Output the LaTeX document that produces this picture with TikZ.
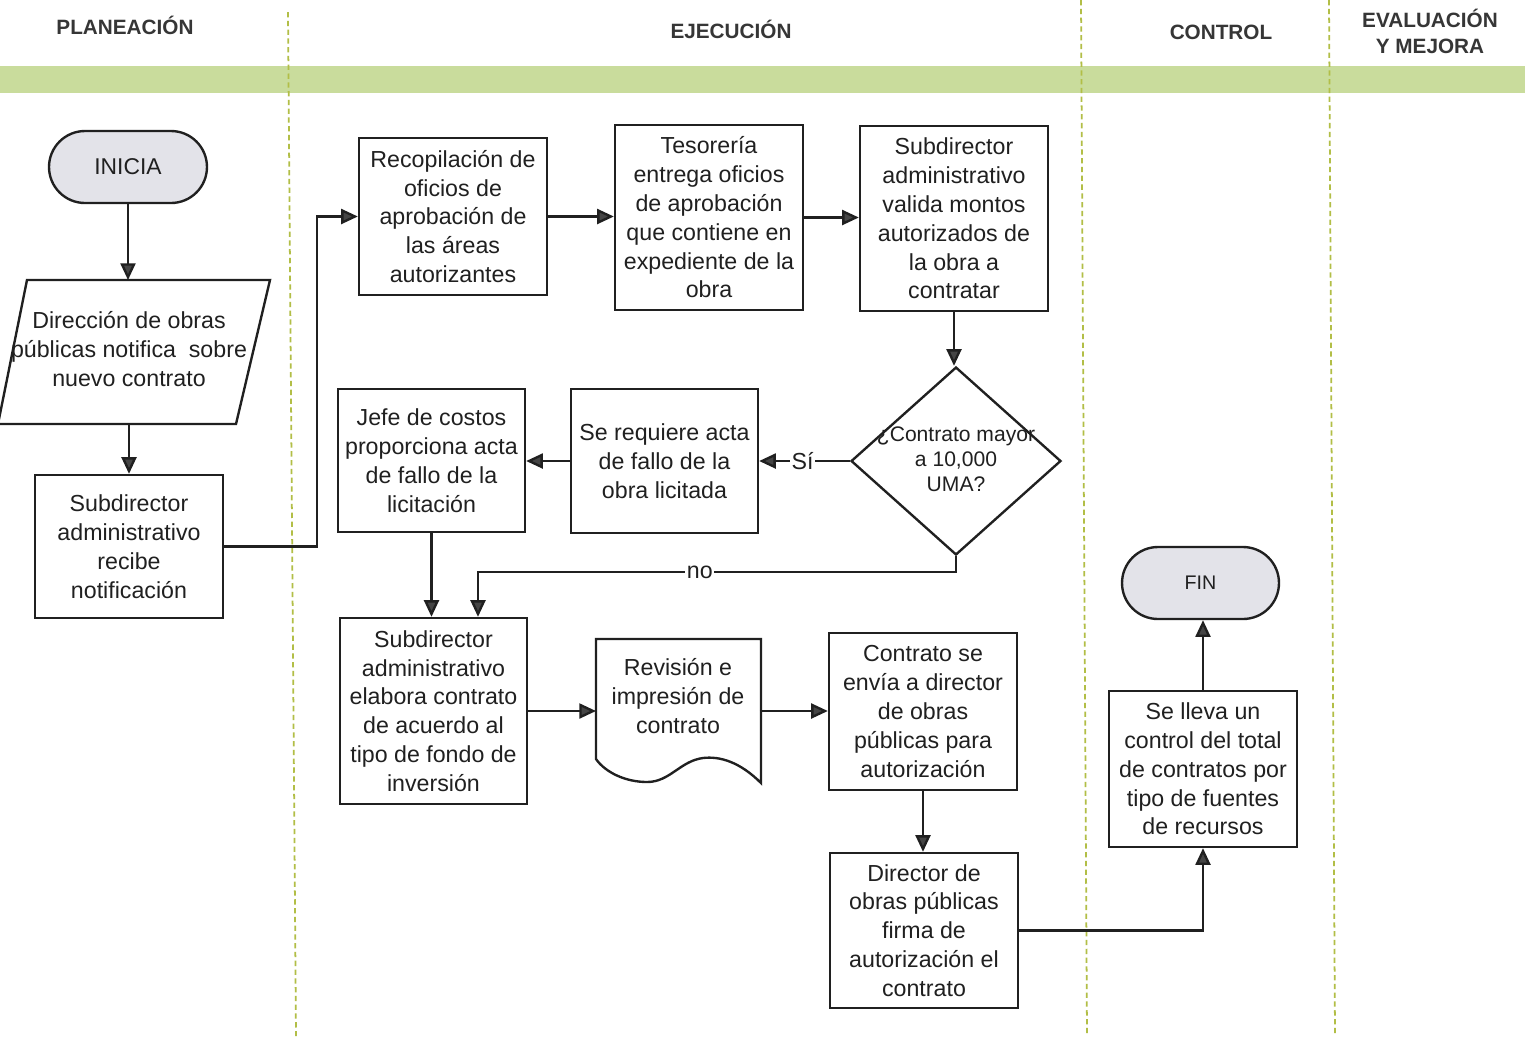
\documentclass[tikz,border=0pt]{standalone}
\usepackage{fontspec}
\setmainfont{Liberation Sans}
\usetikzlibrary{shapes.geometric,arrows.meta,calc}
\definecolor{ink}{HTML}{202020}
\definecolor{headfill}{HTML}{454545}
\definecolor{band}{RGB}{201,220,156}
\definecolor{lanesep}{RGB}{178,190,70}
\definecolor{termfill}{HTML}{E3E3E9}

\begin{document}
\begin{tikzpicture}[x=0.02cm,y=-0.02cm,
  every node/.style={text=ink},
  boxtext/.style={align=center, font=\fontsize{13.2}{16.4}\selectfont},
  proc/.style={boxtext, draw=ink, line width=1.35pt, fill=white, inner sep=0pt, minimum width=3.76cm},
  term/.style={draw=ink, line width=1.35pt, fill=termfill, rounded corners=0.72cm,
               inner sep=0pt, minimum height=1.44cm},
  anchorbox/.style={inner sep=0pt, outer sep=0pt},
  arr/.style={draw=ink, line width=1.35pt, -{Triangle[length=9.5pt,width=8.5pt,fill=headfill]}},
  lbl/.style={fill=white, inner sep=1pt, font=\fontsize{13.2}{14}\selectfont},
  header/.style={align=center, font=\bfseries\fontsize{11.8}{14.7}\selectfont, text=ink!90},
  lane/.style={draw=lanesep, line width=1pt, dash pattern=on 3pt off 2pt}]

% canvas
\fill[white] (0,0) rectangle (1529,1036);
\useasboundingbox (0,0) rectangle (1529,1036);

% phase band and lane separators
\fill[band] (0,66) rectangle (1525,93);
\draw[lane] (288,12) -- (296,1036);
\draw[lane] (1081,0) -- (1087,1036);
\draw[lane] (1329,0) -- (1335,1036);

% phase titles
\node[header] (hplan) at (125,25) {PLANEACIÓN};
\node[header] (hejec) at (731,29) {EJECUCIÓN};
\node[header] (hctrl) at (1221,32) {CONTROL};
\node[header] (heval) at (1430,31) {EVALUACIÓN\\Y MEJORA};

% planning lane
\node[term, minimum width=3.16cm, font=\fontsize{13}{14}\selectfont] (ini) at (128,167) {INICIA};

\node[anchorbox, minimum width=4.2cm, minimum height=2.88cm] (dirop) at (133,352) {};
\draw[ink, line width=1.35pt, fill=white] (27,280) -- (270,280) -- (236,424) -- (-2,424) -- cycle;
\node[boxtext] (diroptxt) at (129,349) {Dirección de obras\\públicas notifica~ sobre\\nuevo contrato};

\node[proc, minimum height=2.86cm] (recibe) at (129,546.5) {Subdirector\\administrativo\\recibe\\notificación};

% execution lane
\node[proc, minimum height=3.14cm] (recop) at (453,216.5) {Recopilación de\\oficios de\\aprobación de\\las áreas\\autorizantes};
\node[proc, minimum height=3.70cm] (teso) at (709,217.5) {Tesorería\\entrega oficios\\de aprobación\\que contiene en\\expediente de la\\obra};
\node[proc, minimum height=3.70cm] (valida) at (954,218.5) {Subdirector\\administrativo\\valida montos\\autorizados de\\la obra a\\contratar};

\node[draw=ink, line width=1.35pt, fill=white, diamond, aspect=1.117, inner sep=0pt,
      minimum width=4.2cm, minimum height=3.76cm] (dia) at (956,461) {};
\node[align=center, font=\fontsize{12}{14.2}\selectfont] (diatxt) at (956,459) {¿Contrato mayor\\a 10,000\\UMA?};

\node[proc, minimum width=3.74cm, minimum height=2.88cm] (seq) at (664.5,461) {Se requiere acta\\de fallo de la\\obra licitada};
\node[proc, minimum width=3.74cm, minimum height=2.86cm] (jefe) at (431.5,460.5) {Jefe de costos\\proporciona acta\\de fallo de la\\licitación};

\node[proc, minimum width=3.74cm, minimum height=3.72cm] (elab) at (433.5,711) {Subdirector\\administrativo\\elabora contrato\\de acuerdo al\\tipo de fondo de\\inversión};

\node[anchorbox, minimum width=3.28cm, minimum height=2.88cm] (rev) at (678,711) {};
\draw[ink, line width=1.35pt, fill=white] (596,639) -- (761,639) -- (761,783)
  .. controls (740,762) and (720,756) .. (703,758)
  .. controls (680,761) and (670,782) .. (647,782)
  .. controls (625,782) and (605,772) .. (596,759) -- cycle;
\node[boxtext] (revtxt) at (678,696) {Revisión e\\impresión de\\contrato};

\node[proc, minimum height=3.14cm] (env) at (923,711.5) {Contrato se\\envía a director\\de obras\\públicas para\\autorización};
\node[proc, minimum height=3.10cm] (dirobr) at (924,930.5) {Director de\\obras públicas\\firma de\\autorización el\\contrato};

% control lane
\node[proc, minimum height=3.12cm] (lleva) at (1203,769) {Se lleva un\\control del total\\de contratos por\\tipo de fuentes\\de recursos};
\node[term, minimum width=3.14cm, font=\fontsize{11.2}{13}\selectfont] (fin) at (1200.5,583) {FIN};

% connectors
\draw[arr] (ini.south) -- (ini.south |- dirop.north);
\draw[arr] (recibe.north |- dirop.south) -- (recibe.north);
\draw[arr] (recibe.east) -- ++(93,0) |- (recop.west);
\draw[arr] (recop.east) -- (recop.east -| teso.west);
\draw[arr] (teso.east) -- (teso.east -| valida.west);
\draw[arr] (valida.south) -- (valida.south |- dia.north);
\draw[arr] (dia.west) -- node[lbl, pos=0.52] (lblsi) {Sí} (seq.east);
\draw[arr] (seq.west) -- (seq.west -| jefe.east);
\draw[arr] (jefe.south) -- (jefe.south |- elab.north);
\draw[arr] (dia.south) -- ++(0,16) -| node[lbl, pos=0.268] (lblno) {no} ($(elab.north)+(44.5,0)$);
\draw[arr] (elab.east) -- (rev.west);
\draw[arr] (rev.east) -- (rev.east -| env.west);
\draw[arr] (env.south) -- (env.south |- dirobr.north);
\draw[arr] (dirobr.east) -| (lleva.south);
\draw[arr] (lleva.north) -- (lleva.north |- fin.south);

\end{tikzpicture}
\end{document}
